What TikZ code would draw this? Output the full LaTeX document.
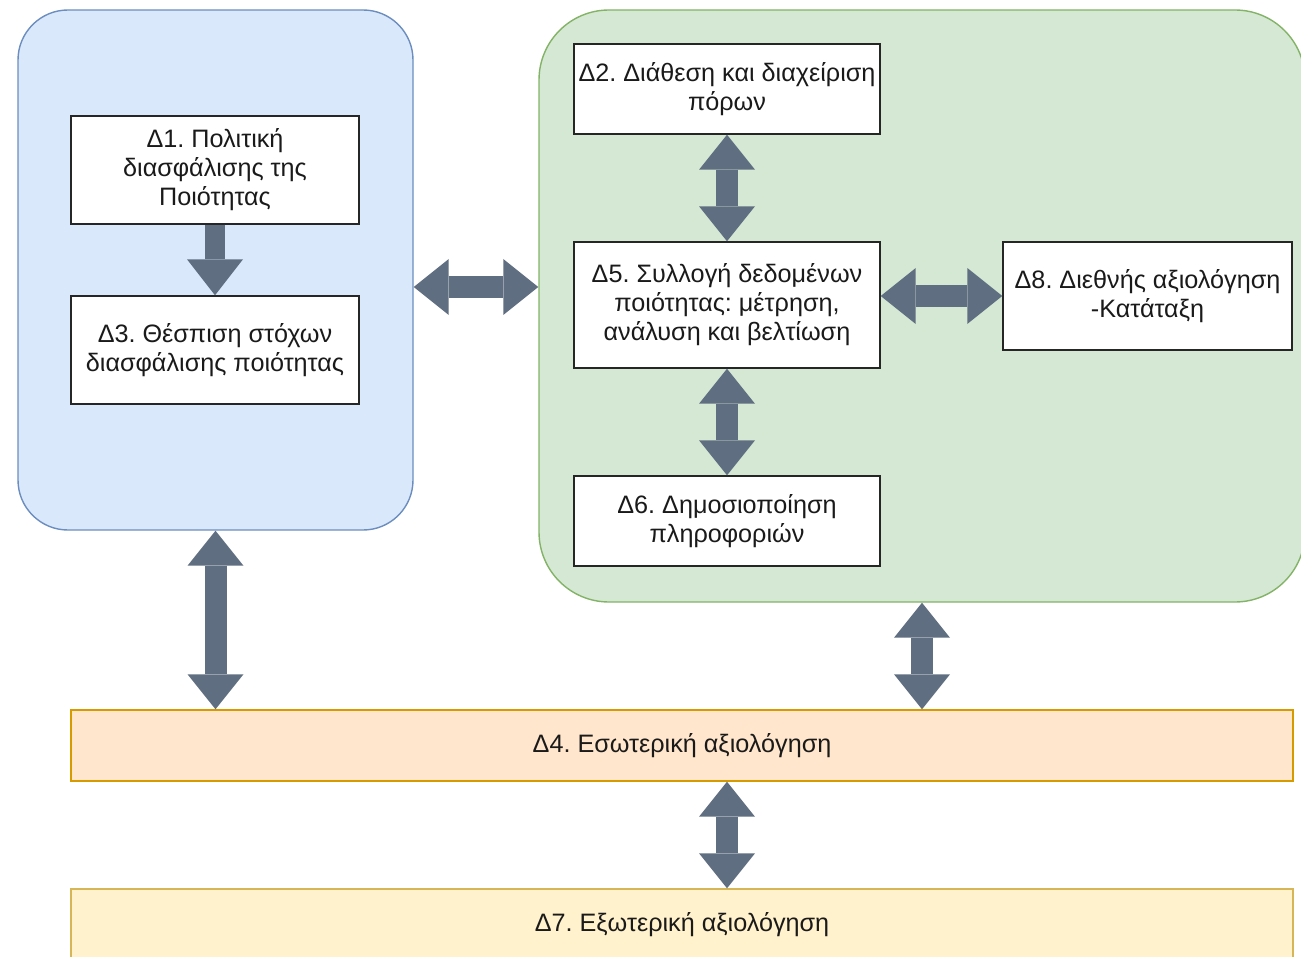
\documentclass[tikz,border=0pt]{standalone}
\usepackage{fontspec}
\setmainfont{Liberation Sans}
\usepackage{tikz}
\usetikzlibrary{arrows.meta}
\frenchspacing

\definecolor{bluefill}{HTML}{DAE8FC}
\definecolor{bluedraw}{HTML}{6C8EBF}
\definecolor{greenfill}{HTML}{D5E8D4}
\definecolor{greendraw}{HTML}{82B366}
\definecolor{orangefill}{HTML}{FFE6CC}
\definecolor{orangedraw}{HTML}{D79B00}
\definecolor{yellowfill}{HTML}{FFF2CC}
\definecolor{yellowdraw}{HTML}{D6B656}
\definecolor{arrowgray}{HTML}{5F6E80}
\definecolor{textdark}{HTML}{1A1A1A}

\begin{document}
\begin{tikzpicture}[
        x=0.5pt, y=-0.5pt,
        every node/.style={font=\fontsize{12.6}{14.5}\selectfont, text=textdark, align=center, inner sep=0pt},
        group/.style={line width=0.7pt, rounded corners=#1},
        box/.style={draw=black!85, fill=white, line width=0.7pt},
        band/.style={line width=0.7pt, minimum width=611pt, minimum height=35.5pt},
        blockarrow/.style={draw=arrowgray, line width=11pt,
          {Triangle[width=28pt,length=17.5pt,line width=0pt]}-{Triangle[width=28pt,length=17.5pt,line width=0pt]}},
        onearrow/.style={draw=arrowgray, line width=10pt,
          -{Triangle[width=28pt,length=18pt,line width=0pt]}}
      ]
      \useasboundingbox (0,0) rectangle (1301,957);
      \clip (0,0) rectangle (1301,957);
      \node[group=25pt, draw=bluedraw, fill=bluefill, minimum width=197.5pt, minimum height=260pt] (blue) at (215.5,270) {};
      \node[group=35pt, draw=greendraw, fill=greenfill, minimum width=383pt, minimum height=296pt] (green) at (922,306) {};
      \node[box, minimum width=144pt, minimum height=54pt] (d1) at (215,170) {Δ1. Πολιτική\\διασφάλισης της\\Ποιότητας};
      \node[box, minimum width=144pt, minimum height=54pt] (d3) at (215,350) {Δ3. Θέσπιση στόχων\\διασφάλισης ποιότητας};
      \node[box, minimum width=153pt, minimum height=45pt] (d2) at (727,89) {Δ2. Διάθεση και διαχείριση\\πόρων};
      \node[box, minimum width=153pt, minimum height=63pt] (d5) at (727,305) {Δ5. Συλλογή δεδομένων\\ποιότητας: μέτρηση,\\ανάλυση και βελτίωση};
      \node[box, minimum width=153pt, minimum height=45pt] (d6) at (727,521) {Δ6. Δημοσιοποίηση\\πληροφοριών};
      \node[box, minimum width=144.5pt, minimum height=54pt] (d8) at (1147.5,296) {Δ8. Διεθνής αξιολόγηση\\-Κατάταξη};
      \node[band, draw=orangedraw, fill=orangefill] (d4) at (682,745.5) {Δ4. Εσωτερική αξιολόγηση};
      \node[band, draw=yellowdraw, fill=yellowfill] (d7) at (682,924.5) {Δ7. Εξωτερική αξιολόγηση};
      \draw[onearrow] (d1) -- (d3);
      \draw[blockarrow] (d2) -- (d5);
      \draw[blockarrow] (d5) -- (d6);
      \draw[blockarrow] (d8.west -| d5.east) -- (d8.west);
      \draw[blockarrow] ([yshift=-8.5pt]blue.east) -- ([yshift=-8.5pt]blue.east -| green.west);
      \draw[blockarrow] (blue.south) -- (blue.south |- d4.north);
      \draw[blockarrow] (green.south) -- (green.south |- d4.north);
      \draw[blockarrow] (d4.south -| d5) -- (d7.north -| d5);
\end{tikzpicture}
\end{document}
